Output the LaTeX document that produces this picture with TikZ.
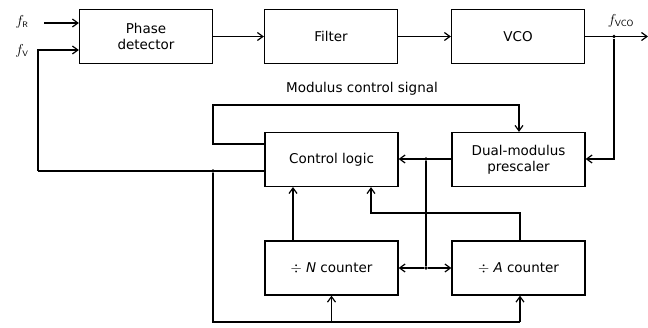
\documentclass[tikz,border=0pt]{standalone}
\usepackage{fontspec}
\setmainfont{DejaVu Sans}
\usetikzlibrary{arrows.meta}
\begin{document}
\begin{tikzpicture}[x=1pt,y=-1pt,
  blk/.style={draw, line width=1.25pt, minimum width=133pt, minimum height=54pt, inner sep=0pt,
    font=\fontsize{13.5}{16}\selectfont, align=center},
  arr/.style={-{Straight Barb[length=5.5pt,width=8pt,line width=1.2pt]}},
  ln/.style={line width=1.25pt},
  dot/.style={circle, fill, inner sep=0pt, minimum size=3.8pt},
  lbl/.style={font=\fontsize{15}{17}\selectfont, inner sep=0pt}]
\useasboundingbox (0,0) rectangle (648,327);
\node[blk] (pd) at (146,36.5) {Phase\\detector};
\node[blk] (filt) at (331,36.5) {Filter};
\node[blk] (vco) at (518,36.5) {VCO};
\node[blk] (pre) at (518.5,159.5) {Dual-modulus\\prescaler};
\node[blk] (ctl) at (331.5,159.5) {Control logic};
\node[blk] (nc) at (331.5,268) {$\div$ \textit{N} counter};
\node[blk] (ac) at (518.5,268) {$\div$ \textit{A} counter};
% labels
\node[lbl] (lfr) at (22,22) {$f_{\textsf{\footnotesize R}}$};
\node[lbl] (lfv) at (22,51) {$f_{\textsf{\footnotesize V}}$};
\node[lbl] (lfvco) at (621,21) {$f_{\textsf{\small VCO}}$};
\node[font=\fontsize{13.5}{16}\selectfont] (lmod) at (362,89) {Modulus control signal};
% coordinates
\coordinate (frs) at (44,23);
\coordinate (fvc) at (38,50);
\coordinate (fvb) at (38,171);
\coordinate (out) at (648,36.5);
\node[dot] (jv) at (614,36.5) {};
\coordinate (jvb) at (614,159);
\node[dot] (jfb) at (213,171) {};
\coordinate (fbb) at (213,322);
\coordinate (fbr) at (520,322);
\coordinate (mc1) at (213,144);
\coordinate (mc2) at (213,105);
\coordinate (mc3) at (519,105);
\node[dot] (jp) at (426,159) {};
\node[dot] (jp2) at (426,268) {};
\coordinate (a1) at (520,213);
\coordinate (a2) at (371,213);
% top chain
\draw[ln,arr] (frs) -- (frs -| pd.west);
\draw[ln,arr] (fvb) -- (fvc) -- (fvc -| pd.west);
\draw[ln,arr] (pd) -- (filt);
\draw[ln,arr] (filt) -- (vco);
\draw[ln,arr] (vco.east) -- (out);
\draw[ln,arr] (jv) -- (jvb) -- (jvb -| pre.east);
% modulus control
\draw[ln,arr] (mc1 -| ctl.west) -- (mc1) -- (mc2) -- (mc3) -- (mc3 |- pre.north);
% feedback from control logic
\draw[ln] (fvb -| ctl.west) -- (fvb);
\draw[ln] (jfb) -- (fbb) -- (fbr);
\draw[ln,arr] (fbb -| nc.south) -- (nc.south);
\draw[ln,arr] (fbr) -- (fbr |- ac.south);
% prescaler output
\draw[ln,arr] (pre.west |- jp) -- (ctl.east |- jp);
\draw[ln] (jp) -- (jp2);
\draw[ln,arr] (jp2) -- (jp2 -| nc.east);
\draw[ln,arr] (jp2) -- (jp2 -| ac.west);
% counters to control logic
\draw[ln,arr] (293,241) -- (293,187);
\draw[ln,arr] (a1 |- ac.north) -- (a1) -- (a2) -- (a2 |- ctl.south);
\end{tikzpicture}
\end{document}
